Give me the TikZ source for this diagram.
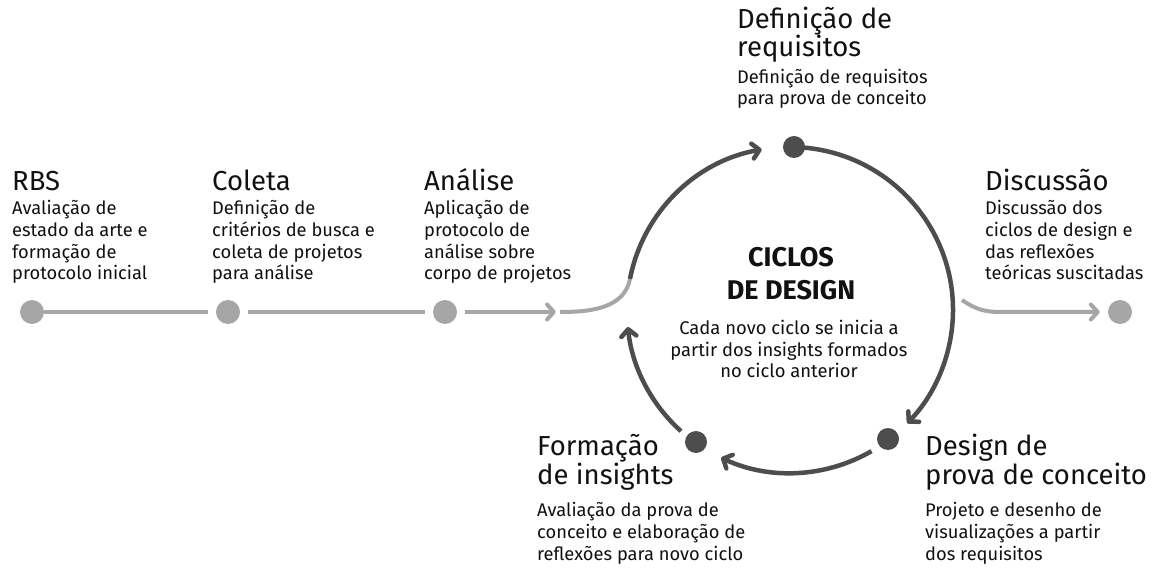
\documentclass[tikz,border=0pt]{standalone}
\usepackage{fontspec}
\setmainfont{Fira Sans}
\usetikzlibrary{arrows.meta,calc}
\definecolor{dk}{HTML}{4D4D4D}
\definecolor{lt}{HTML}{A6A6A6}
\definecolor{tx}{HTML}{111111}
\begin{document}
\begin{tikzpicture}[x=1pt,y=1pt,
  dotl/.style={circle,fill=lt,minimum size=24pt,inner sep=0},
  dotd/.style={circle,fill=dk,minimum size=22pt,inner sep=0},
  ttl/.style={anchor=base west,inner sep=0,align=left,font=\fontsize{27.5}{28.5}\selectfont,text=tx},
  bdy/.style={anchor=base west,inner sep=0,align=left,font=\fontsize{18.3}{21.7}\selectfont,text=tx},
  ctitle/.style={anchor=base,inner sep=0,align=center,font=\fontsize{27}{33}\selectfont\bfseries,text=tx},
  cbody/.style={anchor=base,inner sep=0,align=center,font=\fontsize{18.4}{21.7}\selectfont,text=tx},
  lline/.style={draw=lt,line width=4pt},
  dline/.style={draw=dk,line width=4.5pt},
  tip/.style={-{Straight Barb[length=7pt,width=15pt,round]}}]
\useasboundingbox (0,0) rectangle (1156,568);
\fill[white] (0,0) rectangle (1156,568);

% linear dots
\node[dotl] (rbs) at (32,256) {};
\node[dotl] (col) at (228,256) {};
\node[dotl] (ana) at (445,256) {};
\node[dotl] (disc) at (1120,256) {};

% cycle dots
\coordinate (C) at (790,258);
\node[dotd] (def) at (794,421) {};
\node[dotd] (des) at (888,129) {};
\node[dotd] (form) at (696,126) {};

% linear connectors
\draw[lline,shorten >=8pt] (rbs) -- (col);
\draw[lline,shorten >=8pt,shorten <=8pt] (col) -- (ana);
\coordinate (atip) at (556,256);
\draw[lline,tip,shorten <=8pt] (ana) -- (atip);
\coordinate (s0) at (560,256);
\coordinate (J) at ($(C)+(169:163)$);
\draw[lline] (s0) to[out=0,in=-101] (J);

% cycle arcs
\draw[dline,tip] (J) arc[start angle=169,end angle=100,radius=163];
\coordinate (a1) at ($(C)+(85:163)$);
\draw[dline,tip] (a1) arc[start angle=85,end angle=-44,radius=163];
\coordinate (a2) at ($(C)+(-60:163)$);
\draw[dline,tip] (a2) arc[start angle=-60,end angle=-115,radius=163];
\coordinate (a3) at ($(C)+(-132:163)$);
\draw[dline,tip] (a3) arc[start angle=-132,end angle=-174,radius=163];

% exit
\coordinate (r0) at (962,268);
\coordinate (r1) at (1000,256);
\draw[lline,tip] (r0) to[out=-35,in=180] (r1) -- ([xshift=-8pt]disc.west);

% texts (base = last line baseline)
\node[ttl] (t-rbs) at (12,377) {RBS};
\node[bdy] (b-rbs) at (12,288) {Avaliação de\\estado da arte e\\formação de\\protocolo inicial};
\node[ttl] (t-col) at (212,377) {Coleta};
\node[bdy] (b-col) at (212,288) {Definição de\\critérios de busca e\\coleta de projetos\\para análise};
\node[ttl] (t-ana) at (424,377) {Análise};
\node[bdy] (b-ana) at (424,288) {Aplicação de\\protocolo de\\análise sobre\\corpo de projetos};
\node[ttl] (t-disc) at (985,377) {Discussão};
\node[bdy] (b-disc) at (985,288) {Discussão dos\\ciclos de design e\\das reflexões\\teóricas suscitadas};
\node[ttl] (t-def) at (737,511) {Definição de\\requisitos};
\node[bdy] (b-def) at (737,463) {Definição de requisitos\\para prova de conceito};
\node[ttl] (t-form) at (537,84) {Formação\\de insights};
\node[bdy] (b-form) at (537,8) {Avaliação da prova de\\conceito e elaboração de\\reflexões para novo ciclo};
\node[ttl] (t-des) at (925,84) {Design de\\prova de conceito};
\node[bdy] (b-des) at (925,8) {Projeto e desenho de\\visualizações a partir\\dos requisitos};
\node[ctitle] (t-cic) at (791,268) {CICLOS\\DE DESIGN};
\node[cbody] (b-cic) at (789,190) {Cada novo ciclo se inicia a\\partir dos insights formados\\no ciclo anterior};
\end{tikzpicture}
\end{document}
